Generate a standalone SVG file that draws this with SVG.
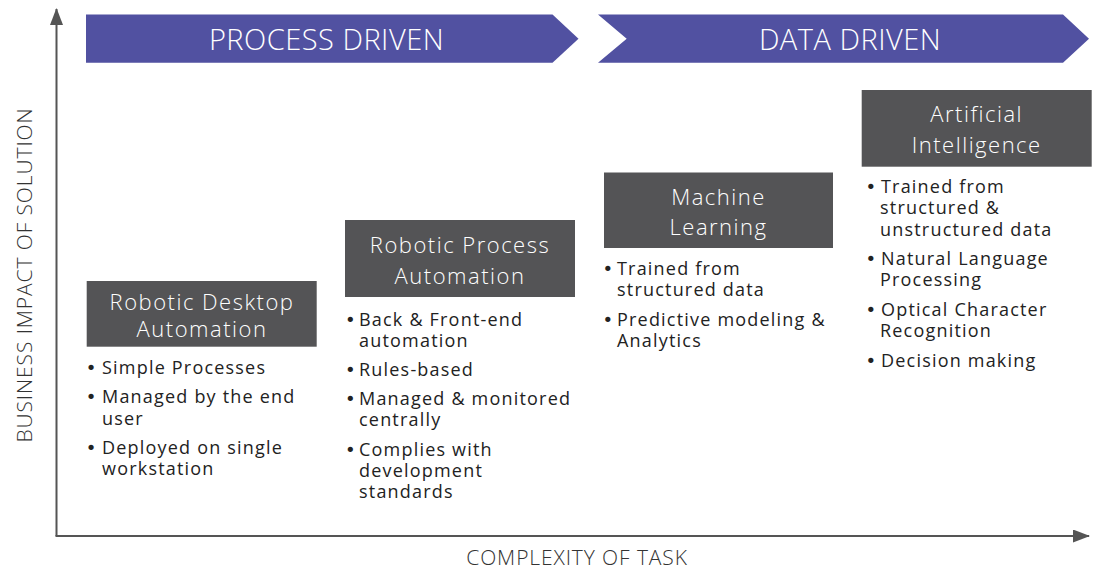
<svg xmlns="http://www.w3.org/2000/svg" width="1098" height="569" viewBox="0 0 1098 569">
<defs>
<marker id="ah" markerWidth="17" markerHeight="13" refX="16" refY="6.5" orient="auto" markerUnits="userSpaceOnUse" viewBox="0 0 17 13">
<path d="M0,0 L17,6.5 L0,13 z" fill="#555"/>
</marker>
<style>
.banner{fill:#5151A1}
.btxt{font-family:"Open Sans",sans-serif;font-size:29px;font-weight:300;letter-spacing:0.5px;fill:#fff;text-anchor:middle}
.box{fill:#545456}
.htxt{font-family:"Open Sans",sans-serif;font-size:22px;font-weight:300;letter-spacing:1.5px;fill:#fff;text-anchor:middle}
.li{font-family:"Open Sans",sans-serif;font-size:18px;letter-spacing:1.2px;fill:#222}
.b{font-family:"DejaVu Sans",sans-serif;letter-spacing:-4px}
.ax{font-family:"Open Sans",sans-serif;font-size:21px;font-weight:300;letter-spacing:0.9px;fill:#333}
.axis{stroke:#555;stroke-width:2;fill:none}
</style>
</defs>
<rect width="1098" height="569" fill="#fff"/>
<g id="connectors">
<line class="axis" x1="56.5" y1="536" x2="56.5" y2="9" marker-end="url(#ah)"/>
<line class="axis" x1="55.5" y1="536" x2="1089" y2="536" marker-end="url(#ah)"/>
</g>
<g id="axis-labels">
<text class="ax" transform="translate(32,275) rotate(-90)" text-anchor="middle">BUSINESS IMPACT OF SOLUTION</text>
<text class="ax" x="577" y="565" text-anchor="middle">COMPLEXITY OF TASK</text>
</g>
<g id="process-driven">
<polygon class="banner" points="86,14.5 552.5,14.5 578.5,38.7 552.5,62.7 86,62.7"/>
<text class="btxt" x="326.5" y="50">PROCESS DRIVEN</text>
</g>
<g id="data-driven">
<polygon class="banner" points="598,14.5 1063,14.5 1089,38.7 1063,62.7 598,62.7 626.7,38.7"/>
<text class="btxt" x="850" y="50">DATA DRIVEN</text>
</g>
<g id="rda">
<rect class="box" x="86.7" y="281" width="230" height="65.7"/>
<text class="htxt" x="202" y="310">Robotic Desktop</text>
<text class="htxt" x="202" y="337">Automation</text>
<text class="li" x="85.7" y="374"><tspan class="b">• </tspan><tspan x="102">Simple Processes</tspan></text>
<text class="li" x="85.7" y="403"><tspan class="b">• </tspan><tspan x="102">Managed by the end</tspan></text>
<text class="li" x="102" y="424.5">user</text>
<text class="li" x="85.7" y="453.5"><tspan class="b">• </tspan><tspan x="102">Deployed on single</tspan></text>
<text class="li" x="102" y="475">workstation</text>
</g>
<g id="rpa">
<rect class="box" x="345" y="220" width="230" height="77"/>
<text class="htxt" x="460" y="253">Robotic Process</text>
<text class="htxt" x="460" y="284">Automation</text>
<text class="li" x="345" y="325.5"><tspan class="b">• </tspan><tspan x="359">Back &amp; Front-end</tspan></text>
<text class="li" x="359" y="346.5">automation</text>
<text class="li" x="345" y="376"><tspan class="b">• </tspan><tspan x="359">Rules-based</tspan></text>
<text class="li" x="345" y="405"><tspan class="b">• </tspan><tspan x="359">Managed &amp; monitored</tspan></text>
<text class="li" x="359" y="426">centrally</text>
<text class="li" x="345" y="456"><tspan class="b">• </tspan><tspan x="359">Complies with</tspan></text>
<text class="li" x="359" y="477">development</text>
<text class="li" x="359" y="498">standards</text>
</g>
<g id="ml">
<rect class="box" x="604" y="172.5" width="229" height="75.5"/>
<text class="htxt" x="718.5" y="205">Machine</text>
<text class="htxt" x="718.5" y="235">Learning</text>
<text class="li" x="602.5" y="275"><tspan class="b">• </tspan><tspan x="617">Trained from</tspan></text>
<text class="li" x="617" y="296">structured data</text>
<text class="li" x="602.5" y="326"><tspan class="b">• </tspan><tspan x="617">Predictive modeling &amp;</tspan></text>
<text class="li" x="617" y="347">Analytics</text>
</g>
<g id="ai">
<rect class="box" x="861.7" y="90" width="230" height="76.7"/>
<text class="htxt" x="976.7" y="121.7">Artificial</text>
<text class="htxt" x="976.7" y="152.7">Intelligence</text>
<text class="li" x="865.5" y="193"><tspan class="b">• </tspan><tspan x="881">Trained from</tspan></text>
<text class="li" x="880" y="214">structured &amp;</text>
<text class="li" x="880" y="236">unstructured data</text>
<text class="li" x="865.5" y="265"><tspan class="b">• </tspan><tspan x="881">Natural Language</tspan></text>
<text class="li" x="880" y="286">Processing</text>
<text class="li" x="865.5" y="316"><tspan class="b">• </tspan><tspan x="881">Optical Character</tspan></text>
<text class="li" x="880" y="337">Recognition</text>
<text class="li" x="865.5" y="367"><tspan class="b">• </tspan><tspan x="881">Decision making</tspan></text>
</g>
</svg>
